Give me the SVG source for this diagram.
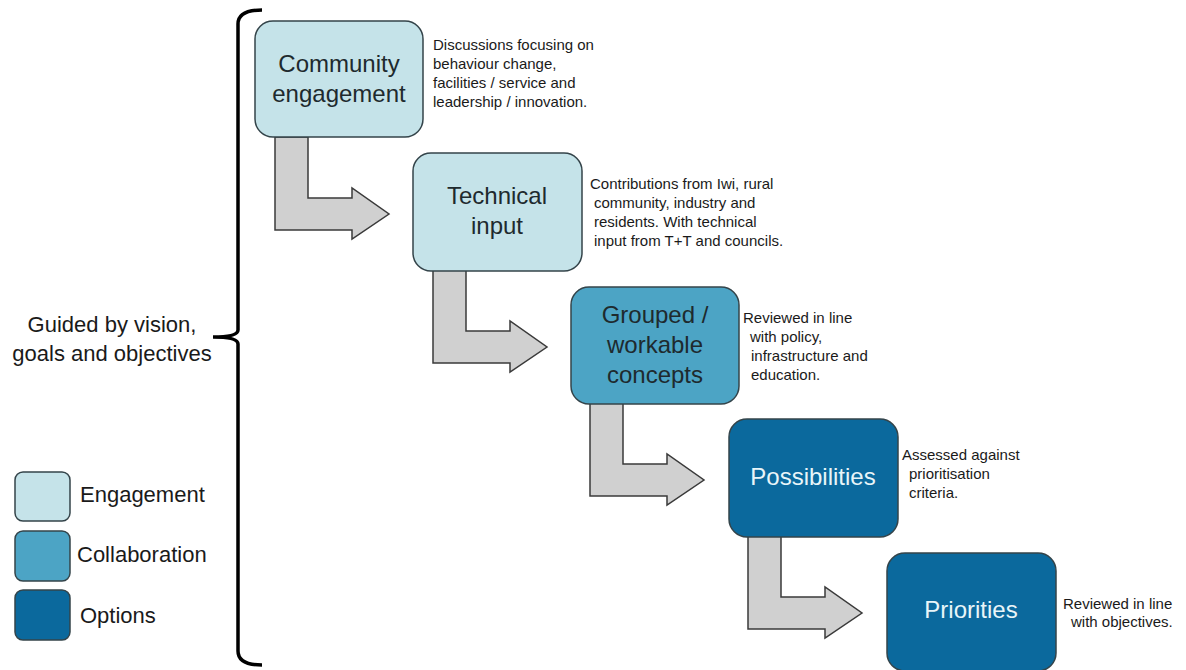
<svg xmlns="http://www.w3.org/2000/svg" width="1186" height="670" viewBox="0 0 1186 670">
<style>
.bg{fill:#ffffff}
.node{stroke:#34444a;stroke-width:1.5}
.eng{fill:#c5e3e9}
.col{fill:#4ca4c5}
.opt{fill:#0b699d}
.nt{font-family:"Liberation Sans",Arial,sans-serif;font-size:24px;text-anchor:middle;fill:#1e2a2e}
.nw{fill:#e8f5f9}
.ann{font-family:"Liberation Sans",Arial,sans-serif;font-size:15px;fill:#1a1a1a}
.big{font-family:"Liberation Sans",Arial,sans-serif;font-size:22px;fill:#1a1a1a}
.arrow{fill:#d0d0d0;stroke:#3a3a3a;stroke-width:1.5;stroke-linejoin:miter}
.brace{fill:none;stroke:#000000;stroke-width:3.5}
</style>
<defs>
<path id="bent" d="M0,0 L33,0 L33,61 L77,61 L77,51 L114,77 L77,102 L77,93 L0,93 Z"/>
</defs>
<rect class="bg" x="0" y="0" width="1186" height="670"/>

<g id="connectors">
<use href="#bent" class="arrow" x="275" y="137"/>
<use href="#bent" class="arrow" x="433" y="270"/>
<use href="#bent" class="arrow" x="590" y="403"/>
<use href="#bent" class="arrow" x="748" y="536"/>
</g>

<g id="brace">
<path class="brace" d="M262,10 Q238,10 238,24 L238,330 Q238,337 213,337 Q238,337 238,344 L238,651 Q238,665 262,665"/>
<text class="big" x="112" y="332" text-anchor="middle">Guided by vision,</text>
<text class="big" x="112" y="361" text-anchor="middle">goals and objectives</text>
</g>

<g id="node-community">
<rect class="node eng" x="255" y="21" width="168" height="116" rx="18"/>
<text class="nt" x="339" y="72">Community</text>
<text class="nt" x="339" y="102">engagement</text>
<text class="ann"><tspan x="433" y="50">Discussions focusing on</tspan><tspan x="433" y="69">behaviour change,</tspan><tspan x="433" y="88">facilities / service and</tspan><tspan x="433" y="107">leadership / innovation.</tspan></text>
</g>

<g id="node-technical">
<rect class="node eng" x="413" y="153" width="169" height="118" rx="18"/>
<text class="nt" x="497" y="204">Technical</text>
<text class="nt" x="497" y="234">input</text>
<text class="ann"><tspan x="590" y="189">Contributions from Iwi, rural</tspan><tspan x="594" y="208">community, industry and</tspan><tspan x="594" y="227">residents. With technical</tspan><tspan x="594" y="246">input from T+T and councils.</tspan></text>
</g>

<g id="node-grouped">
<rect class="node col" x="571" y="287" width="168" height="117" rx="18"/>
<text class="nt" x="655" y="323">Grouped /</text>
<text class="nt" x="655" y="353">workable</text>
<text class="nt" x="655" y="383">concepts</text>
<text class="ann"><tspan x="743" y="323">Reviewed in line</tspan><tspan x="750" y="342">with policy,</tspan><tspan x="751" y="361">infrastructure and</tspan><tspan x="751" y="380">education.</tspan></text>
</g>

<g id="node-possibilities">
<rect class="node opt" x="729" y="419" width="169" height="118" rx="18"/>
<text class="nt nw" x="813" y="485">Possibilities</text>
<text class="ann"><tspan x="902" y="460">Assessed against</tspan><tspan x="909" y="479">prioritisation</tspan><tspan x="909" y="498">criteria.</tspan></text>
</g>

<g id="node-priorities">
<rect class="node opt" x="887" y="553" width="169" height="118" rx="18"/>
<text class="nt nw" x="971" y="618">Priorities</text>
<text class="ann"><tspan x="1063" y="609">Reviewed in line</tspan><tspan x="1071" y="627">with objectives.</tspan></text>
</g>

<g id="legend">
<rect class="node eng" x="15" y="472" width="55" height="49" rx="8"/>
<text class="big" x="80" y="502">Engagement</text>
<rect class="node col" x="15" y="531" width="55" height="50" rx="8"/>
<text class="big" x="77" y="562">Collaboration</text>
<rect class="node opt" x="15" y="590" width="55" height="50" rx="8"/>
<text class="big" x="80" y="623">Options</text>
</g>
</svg>
